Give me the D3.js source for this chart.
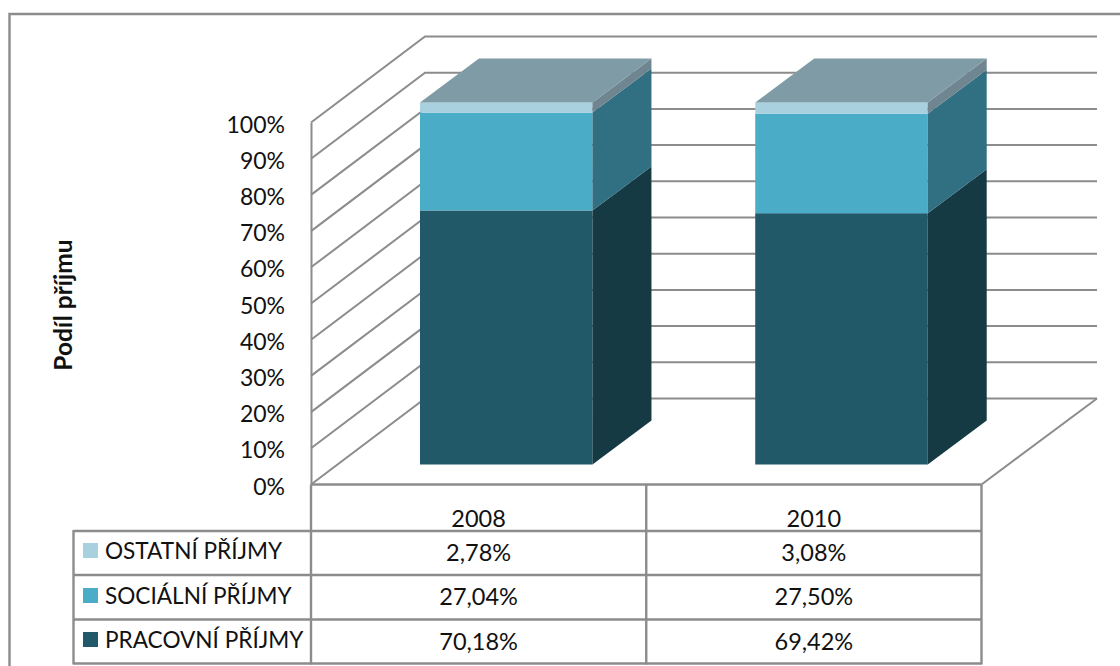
<!DOCTYPE html>
<html><head><meta charset="utf-8">
<script src="https://cdn.jsdelivr.net/npm/d3@7"></script>
<style>html,body{margin:0;padding:0;background:#fff}svg{display:block}</style>
</head><body><svg id="c" width="1120" height="666"></svg>
<script>
const categories = ["2008", "2010"];
const seriesNames = ["PRACOVNÍ PŘÍJMY", "SOCIÁLNÍ PŘÍJMY", "OSTATNÍ PŘÍJMY"];
const pracovni = [70.18, 69.42];
const socialni = [27.04, 27.50];
const ostatni = [2.78, 3.08];
const pracovniLabels = ["70,18%", "69,42%"];
const socialniLabels = ["27,04%", "27,50%"];
const ostatniLabels = ["2,78%", "3,08%"];
const yTicks = [0,10,20,30,40,50,60,70,80,90,100];
const axisTitle = "Podíl příjmu";

const frontColors = ["#215968", "#4bacc8", "#a9d0df"];
const sideColors = ["#163a44", "#316f82", "#6f858f"];
const topColor = "#7f9ba6";
const lineColor = "#8c8c8c";
const font = "Lato, 'Open Sans', sans-serif";

const svg = d3.select("#c").style("font-family", font);
const y = d3.scaleLinear().domain([0,100]).range([484.5,122.5]);
const x = d3.scaleBand().domain(categories).range([311,981.5]).paddingInner(0.4855).paddingOuter(0.24275);
const cellX = d3.scaleBand().domain(categories).range([311,981.5]);
const wall = {dx:114, dy:-86}, front = {dx:27.6, dy:-20}, side = {dx:59, dy:-44};
const line = (a,b,c,d,w=2.4)=>svg.append("line").attr("x1",a).attr("y1",b).attr("x2",c).attr("y2",d)
  .attr("stroke",lineColor).attr("stroke-width",w);

// outer frame
svg.append("path").attr("d","M9.5,666V14H1120").attr("fill","none").attr("stroke",lineColor).attr("stroke-width",2.4);

// walls and gridlines
const grid = svg.append("g").attr("fill","none").attr("stroke",lineColor).attr("stroke-width",2);
yTicks.forEach(t=>{
  const p = d3.path();
  p.moveTo(311,y(t)); p.lineTo(311+wall.dx,y(t)+wall.dy); p.lineTo(1097,y(t)+wall.dy);
  grid.append("path").attr("d",p.toString());
});
const floor = d3.path();
floor.moveTo(981.5,y(0)); floor.lineTo(1097,y(0)+wall.dy);
grid.append("path").attr("d",floor.toString());

// bars
const rows = categories.map((c,i)=>({c,p:pracovni[i],s:socialni[i],o:ostatni[i]}));
const stacked = d3.stack().keys(["p","s","o"])(rows);
const poly = pts => "M"+pts.map(q=>q.join(",")).join("L")+"Z";
const bars = svg.append("g");
stacked.forEach((layer,k)=>{
  layer.forEach(d=>{
    const x0 = x(d.data.c)+front.dx, x1 = x0+x.bandwidth();
    const yb = y(d[0])+front.dy, yt = y(d[1])+front.dy;
    bars.append("rect").attr("x",x0).attr("y",yt).attr("width",x1-x0).attr("height",yb-yt).attr("fill",frontColors[k]);
    bars.append("path").attr("fill",sideColors[k])
      .attr("d",poly([[x1,yb],[x1+side.dx,yb+side.dy],[x1+side.dx,yt+side.dy],[x1,yt]]));
    if(k===stacked.length-1){
      bars.append("path").attr("fill",topColor)
        .attr("d",poly([[x0,yt],[x1,yt],[x1+side.dx,yt+side.dy],[x0+side.dx,yt+side.dy]]));
    }
  });
});

// y axis
const axis = svg.append("g").attr("transform","translate(311,0)")
  .call(d3.axisLeft(y).tickValues(yTicks).tickSize(0).tickPadding(26).tickFormat(d=>d+"%"));
axis.select(".domain").attr("stroke",lineColor).attr("stroke-width",2);
axis.selectAll("text").attr("font-family",font).attr("font-size",23).attr("fill","#111")
  .attr("dy","0.42em");

svg.append("text").attr("transform","translate(72,305) rotate(-90)").attr("text-anchor","middle")
  .attr("font-size",24.5).attr("font-weight",700).attr("fill","#111").text(axisTitle);

// data table
const rowLines = [531,575,619.5,663.5];
line(311,484.5,981.5,484.5);
rowLines.forEach(r=>line(73.5,r,981.5,r));
line(73.5,530,73.5,664.5);
line(311,484.5,311,664.5);
line(cellX("2010"),484.5,cellX("2010"),664.5);
line(981.5,484.5,981.5,664.5);

const txt = (tx,ty,s,size,anchor="middle")=>svg.append("text").attr("x",tx).attr("y",ty)
  .attr("text-anchor",anchor).attr("font-size",size).attr("fill","#111").text(s);
categories.forEach((c,i)=>{
  const cx = cellX(c)+cellX.bandwidth()/2;
  txt(cx,527,c,23.5);
  txt(cx,561,ostatniLabels[i],23.5);
  txt(cx,605,socialniLabels[i],23.5);
  txt(cx,650,pracovniLabels[i],23.5);
});
[[2,543,558],[1,588,603],[0,632,647]].forEach(([k,a,b])=>{
  svg.append("rect").attr("x",83).attr("y",a).attr("width",15).attr("height",b-a).attr("fill",frontColors[k]);
  txt(105,b+1,seriesNames[k],22.6,"start");
});
</script></body></html>
